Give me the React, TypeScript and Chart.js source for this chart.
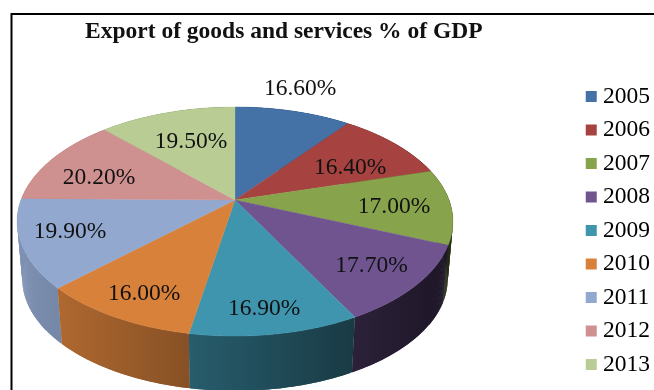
import { useEffect, useRef } from "react";
import { Chart, registerables } from "chart.js";

Chart.register(...registerables);

const years = ["2005", "2006", "2007", "2008", "2009", "2010", "2011", "2012", "2013"];
const exportShare = [16.6, 16.4, 17.0, 17.7, 16.9, 16.0, 19.9, 20.2, 19.5];
const sliceColors = ["#4471a6", "#a64341", "#87a44c", "#6f5490", "#3f95ae", "#d8813b", "#92a8cf", "#cf9190", "#b8cc94"];
const chartTitle = "Export of goods and services % of GDP";

// Where each value label sits on the disc: radius fraction and angular nudge in degrees.
const labelRadius = [1.294, 0.646, 0.737, 0.787, 0.84, 0.82, 0.781, 0.692, 0.625];
const labelNudge = [-1.8, 6, 1.6, 1, 1, -1.6, 1, -6, 0.5];

const SERIF = '"Liberation Serif", serif';
const LABEL_SIZE = 23.5;

// Perspective view of the disc: a tilted circle seen from the front.
const APEX_X = 235;
const APEX_Y = 200;
const SPREAD_X = 214;
const SPREAD_Y = 110.5;
const TILT = 0.188;
const RIM_Y = 258;
const RIM_SCALE = 0.976;

function project(phi: number, r: number): [number, number] {
  const u = r * Math.sin(phi);
  const v = -r * Math.cos(phi);
  const w = 1 - TILT * v;
  return [APEX_X + (SPREAD_X * u) / w, APEX_Y + (SPREAD_Y * v) / w];
}

function lowerRim(phi: number): [number, number] {
  const [x, y] = project(phi, 1);
  return [APEX_X + (x - APEX_X) * RIM_SCALE, RIM_Y + (y - APEX_Y) * RIM_SCALE];
}

// The side wall darkens from left to right, as if lit from the left.
function shaded(hex: string, x: number): string {
  const f = Math.max(0.2, 0.86 - 0.0014 * (x - 20));
  const n = parseInt(hex.slice(1), 16);
  const c = [(n >> 16) & 255, (n >> 8) & 255, n & 255].map((v) => Math.round(v * f));
  return `rgb(${c[0]},${c[1]},${c[2]})`;
}

const frame = {
  id: "frame",
  beforeDraw(chart: Chart) {
    const { ctx } = chart;
    ctx.save();
    ctx.strokeStyle = "#000";
    ctx.lineWidth = 2;
    ctx.beginPath();
    ctx.moveTo(11.5, 390);
    ctx.lineTo(11.5, 14);
    ctx.lineTo(654, 14);
    ctx.stroke();
    ctx.restore();
  },
};

function sweep(start: number, end: number, step: number): number[] {
  const out: number[] = [];
  for (let p = start; p < end; p += step) out.push(p);
  out.push(end);
  return out;
}

// Replaces the flat arcs with an extruded disc, using the angles the pie controller computed.
const disc3d = {
  id: "disc3d",
  beforeDatasetsDraw(chart: Chart) {
    const { ctx } = chart;
    const arcs = chart.getDatasetMeta(0).data as any[];
    const STEP = Math.PI / 360;
    const turn = (a: number) => a + Math.PI / 2;

    ctx.save();

    // Side walls, the ones facing away first. Each strip overlaps the next so no seams show.
    const order = arcs
      .map((arc, i) => ({ arc, i, depth: Math.cos(turn((arc.startAngle + arc.endAngle) / 2)) }))
      .sort((a, b) => b.depth - a.depth);
    order.forEach(({ arc, i }) => {
      const start = turn(arc.startAngle);
      const end = turn(arc.endAngle);
      const wash = ctx.createLinearGradient(17, 0, 453, 0);
      for (let s = 0; s <= 4; s++) {
        wash.addColorStop(s / 4, shaded(sliceColors[i], 17 + (436 * s) / 4));
      }
      ctx.fillStyle = wash;
      for (let p = start; p < end; p += STEP) {
        const q = Math.min(p + STEP * 2, end);
        const a = project(p, 1);
        const b = project(q, 1);
        const c = lowerRim(q);
        const d = lowerRim(p);
        ctx.beginPath();
        ctx.moveTo(a[0], a[1]);
        ctx.lineTo(b[0], b[1]);
        ctx.lineTo(c[0], c[1]);
        ctx.lineTo(d[0], d[1]);
        ctx.closePath();
        ctx.fill();
      }
    });

    // Top face.
    arcs.forEach((arc, i) => {
      ctx.fillStyle = sliceColors[i];
      ctx.strokeStyle = sliceColors[i];
      ctx.lineWidth = 0.4;
      ctx.beginPath();
      ctx.moveTo(APEX_X, APEX_Y);
      sweep(turn(arc.startAngle), turn(arc.endAngle), STEP).forEach((p) => {
        const [x, y] = project(p, 1);
        ctx.lineTo(x, y);
      });
      ctx.closePath();
      ctx.fill();
      ctx.stroke();
    });

    ctx.fillStyle = "#111";
    ctx.font = `${LABEL_SIZE}px ${SERIF}`;
    ctx.textAlign = "center";
    ctx.textBaseline = "middle";
    arcs.forEach((arc, i) => {
      const mid = turn((arc.startAngle + arc.endAngle) / 2) + (labelNudge[i] * Math.PI) / 180;
      const [x, y] = project(mid, labelRadius[i]);
      ctx.fillText(`${exportShare[i].toFixed(2)}%`, x, y);
    });
    ctx.restore();
    return false;
  },
};

export default function App() {
  const canvasRef = useRef<HTMLCanvasElement>(null);

  useEffect(() => {
    const chart = new Chart(canvasRef.current!, {
      type: "pie",
      data: {
        labels: years,
        datasets: [{ data: exportShare, backgroundColor: sliceColors, borderWidth: 0 }],
      },
      options: {
        responsive: false,
        animation: false,
        events: [],
        layout: { padding: { left: 85, right: -6 } },
        plugins: {
          tooltip: { enabled: false },
          title: {
            display: true,
            text: chartTitle,
            align: "start",
            color: "#111",
            font: { family: SERIF, size: 23.5, weight: "bold", lineHeight: 1.1 },
            padding: { top: 19, bottom: 26 },
          },
          legend: {
            position: "right",
            fullSize: false,
            labels: {
              usePointStyle: true,
              pointStyle: "rect",
              boxWidth: 0.01,
              boxHeight: 11,
              padding: 10,
              color: "#000",
              font: { family: SERIF, size: LABEL_SIZE },
            },
          },
        },
      },
      plugins: [frame, disc3d],
    } as any);
    return () => chart.destroy();
  }, []);

  return (
    <div style={{ position: "absolute", left: 0, top: 0, width: 654, height: 390, background: "#fff" }}>
      <canvas ref={canvasRef} width={654} height={390} style={{ display: "block" }} />
    </div>
  );
}
